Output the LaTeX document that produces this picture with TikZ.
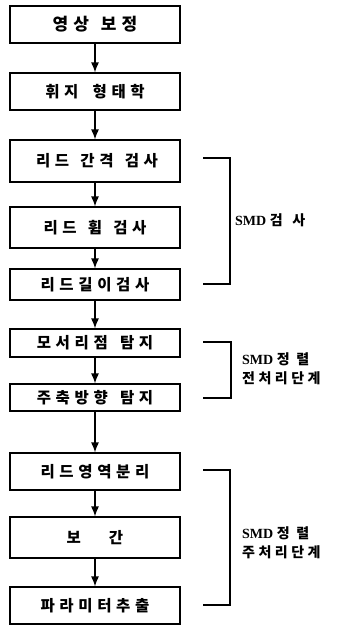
\documentclass[tikz,border=0pt]{standalone}
\usepackage{fontspec}
\setmainfont{Liberation Serif}
\newfontfamily\kr[LetterSpace=30]{Noto Sans CJK KR}
\newfontfamily\krl[LetterSpace=25]{Noto Sans CJK KR}
\usetikzlibrary{arrows.meta}
\tikzset{
  stepbox/.style={draw, line width=1.2pt, minimum width=170pt, inner sep=0pt, font=\kr\bfseries\fontsize{15.5}{16}\selectfont},
  flow/.style={line width=1.2pt, -{Latex[length=10pt,width=8pt]}},
  brace/.style={line width=1.2pt},
  grplabel/.style={anchor=west, align=left, inner sep=0pt, font=\bfseries\fontsize{14}{19}\selectfont}
}
\begin{document}
\begin{tikzpicture}[x=1pt,y=-1pt]
\useasboundingbox (0,0) rectangle (341,627);
\node[stepbox, minimum height=37pt, font=\kr\bfseries\fontsize{17}{18}\selectfont] (b1) at (95,24.5) {영상 \hspace{3pt}보정};
\node[stepbox, minimum height=37pt] (b2) at (95,91.5) {휘지 \hspace{6pt}형태학};
\node[stepbox, minimum height=42pt] (b3) at (95,161) {\hspace{4pt}리드 \hspace{3pt}간격 \hspace{3pt}검사};
\node[stepbox, minimum height=41pt] (b4) at (95,227.5) {리드 \hspace{3pt}휨 \hspace{3pt}검사};
\node[stepbox, minimum height=31pt] (b5) at (95,284.5) {리드길이검사};
\node[stepbox, minimum height=28pt] (b6) at (95,343) {모서리점 \hspace{4pt}탐지};
\node[stepbox, minimum height=27pt] (b7) at (95,397.5) {주축방향 \hspace{4pt}탐지};
\node[stepbox, minimum height=37pt] (b8) at (95,471.5) {리드영역분리};
\node[stepbox, minimum height=41pt] (b9) at (95,537.5) {보\hspace{28pt}간};
\node[stepbox, minimum height=37pt] (b10) at (95,605.5) {파라미터추출};
\foreach \a/\b in {b1/b2,b2/b3,b3/b4,b4/b5,b5/b6,b6/b7,b7/b8,b8/b9,b9/b10}
  \draw[flow] (\a.south) -- (\b.north);
% brackets
\coordinate (g1a) at (203,158); \coordinate (g1b) at (230,158);
\coordinate (g1c) at (230,284); \coordinate (g1d) at (203,284);
\draw[brace] (g1a) -- (g1b) -- (g1c) -- (g1d);
\node[grplabel] (l1) at (235,220) {SMD {\krl 검 \hspace{3pt}사}};
\coordinate (g2a) at (203,342); \coordinate (g2b) at (231,342);
\coordinate (g2c) at (231,398); \coordinate (g2d) at (203,398);
\draw[brace] (g2a) -- (g2b) -- (g2c) -- (g2d);
\node[grplabel] (l2) at (242,369) {SMD {\krl 정 렬}\\{\krl 전처리단계}};
\coordinate (g3a) at (203,470); \coordinate (g3b) at (230,470);
\coordinate (g3c) at (230,605); \coordinate (g3d) at (203,605);
\draw[brace] (g3a) -- (g3b) -- (g3c) -- (g3d);
\node[grplabel] (l3) at (242,543) {SMD {\krl 정 렬}\\{\krl 주처리단계}};
\end{tikzpicture}
\end{document}
